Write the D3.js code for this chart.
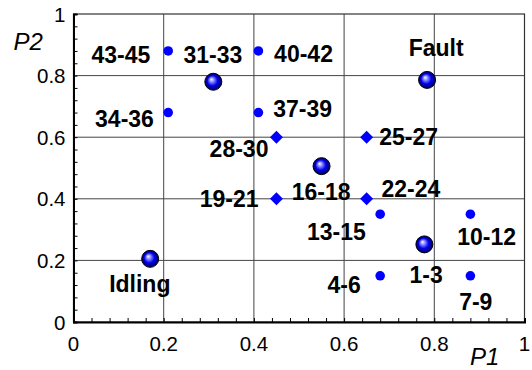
<!DOCTYPE html>
<html><head><meta charset="utf-8">
<script src="https://cdn.jsdelivr.net/npm/d3@7"></script>
<style>body{margin:0;background:#fff}svg{display:block}</style>
</head><body><svg id="c" width="532" height="370"></svg>
<script>
const xTicks = [0, 0.2, 0.4, 0.6, 0.8, 1];
const yTicks = [0, 0.2, 0.4, 0.6, 0.8, 1];
const xTickLabels = ["0", "0.2", "0.4", "0.6", "0.8", "1"];
const yTickLabels = ["0", "0.2", "0.4", "0.6", "0.8", "1"];
// small round points
const dotX = [0.21, 0.41, 0.21, 0.41, 0.68, 0.88, 0.68, 0.88];
const dotY = [0.88, 0.88, 0.68, 0.68, 0.35, 0.35, 0.15, 0.15];
// diamond points
const diaX = [0.45, 0.65, 0.45, 0.65];
const diaY = [0.60, 0.60, 0.40, 0.40];
// cluster centres (spheres)
const sphX = [0.17, 0.31, 0.784, 0.55, 0.778];
const sphY = [0.205, 0.78, 0.786, 0.506, 0.252];
// labels and where they sit (data units)
const labelText = ["43-45","31-33","40-42","Fault","34-36","37-39","28-30","25-27","16-18","19-21","22-24","13-15","10-12","Idling","4-6","1-3","7-9"];
const labelX = [0.105,0.309,0.51,0.804,0.113,0.508,0.367,0.743,0.549,0.345,0.748,0.583,0.916,0.147,0.60,0.782,0.892];
const labelY = [0.868,0.869,0.872,0.889,0.661,0.692,0.561,0.602,0.423,0.40,0.434,0.293,0.277,0.123,0.12,0.153,0.066];

const svg = d3.select("#c");
const x = d3.scaleLinear().domain([0,1]).range([73.5,524.5]);
const y = d3.scaleLinear().domain([0,1]).range([322,14]);

const defs = svg.append("defs");
const g = defs.append("radialGradient").attr("id","sph").attr("cx","50%").attr("cy","50%").attr("r","50%").attr("fx","38%").attr("fy","35%");
g.append("stop").attr("offset","0%").attr("stop-color","#ffffff");
g.append("stop").attr("offset","25%").attr("stop-color","#9090ff");
g.append("stop").attr("offset","60%").attr("stop-color","#0000f0");
g.append("stop").attr("offset","100%").attr("stop-color","#00005a");

// grid
svg.append("g").selectAll("line").data(xTicks.slice(1,-1)).join("line")
  .attr("x1",d=>x(d)).attr("x2",d=>x(d)).attr("y1",y(0)).attr("y2",y(1))
  .attr("stroke","#444").attr("stroke-width",1);
svg.append("g").selectAll("line").data(yTicks.slice(1,-1)).join("line")
  .attr("y1",d=>y(d)).attr("y2",d=>y(d)).attr("x1",x(0)).attr("x2",x(1))
  .attr("stroke","#444").attr("stroke-width",1);

// frame
svg.append("rect").attr("x",x(0)).attr("y",y(1)).attr("width",x(1)-x(0)).attr("height",y(0)-y(1))
  .attr("fill","none").attr("stroke","#333").attr("stroke-width",1.2);

// axes
const xAxis = d3.axisBottom(x).tickValues(d3.range(0,1.0001,0.04)).tickSize(-4).tickFormat("");
const yAxis = d3.axisLeft(y).tickValues(d3.range(0,1.0001,0.04)).tickSize(-4).tickFormat("");
const gx = svg.append("g").attr("transform",`translate(0,${y(0)})`).call(xAxis);
const gy = svg.append("g").attr("transform",`translate(${x(0)},0)`).call(yAxis);
[gx,gy].forEach(a=>{a.select(".domain").attr("stroke","#000").attr("stroke-width",2);a.selectAll(".tick line").attr("stroke","#000");});

// tick labels
svg.append("g").selectAll("text").data(xTicks).join("text")
  .attr("x",d=>x(d)).attr("y",y(0)+28.5).attr("text-anchor","middle")
  .style("font","20.5px 'Liberation Sans', Arial, sans-serif").attr("fill","#000")
  .text((d,i)=>xTickLabels[i]);
svg.append("g").selectAll("text").data(yTicks).join("text")
  .attr("x",x(0)-8).attr("y",d=>y(d)+7.5).attr("text-anchor","end")
  .style("font","20.5px 'Liberation Sans', Arial, sans-serif").attr("fill","#000")
  .text((d,i)=>yTickLabels[i]);

// axis titles
svg.append("text").attr("x",484.7).attr("y",365).attr("text-anchor","middle")
  .style("font","italic 24px 'Liberation Sans', Arial, sans-serif").text("P1");
svg.append("text").attr("x",28.3).attr("y",50).attr("text-anchor","middle")
  .style("font","italic 24px 'Liberation Sans', Arial, sans-serif").text("P2");

// dots
svg.append("g").selectAll("circle").data(dotX).join("circle")
  .attr("cx",d=>x(d)).attr("cy",(d,i)=>y(dotY[i])).attr("r",4.8).attr("fill","#0000ff");
// diamonds
svg.append("g").selectAll("path").data(diaX).join("path")
  .attr("transform",(d,i)=>`translate(${x(d)},${y(diaY[i])})`)
  .attr("d","M0,-6.5L6.5,0L0,6.5L-6.5,0Z").attr("fill","#0000ff");
// spheres
svg.append("g").selectAll("circle").data(sphX).join("circle")
  .attr("cx",d=>x(d)).attr("cy",(d,i)=>y(sphY[i])).attr("r",8.5)
  .attr("fill","url(#sph)").attr("stroke","#000").attr("stroke-width",1);

// labels
svg.append("g").selectAll("text").data(labelText).join("text")
  .attr("x",(d,i)=>x(labelX[i])).attr("y",(d,i)=>y(labelY[i])).attr("dy","0.36em")
  .attr("text-anchor","middle")
  .style("font","bold 23px 'Liberation Sans', Arial, sans-serif").attr("fill","#000")
  .text(d=>d);
</script></body></html>
